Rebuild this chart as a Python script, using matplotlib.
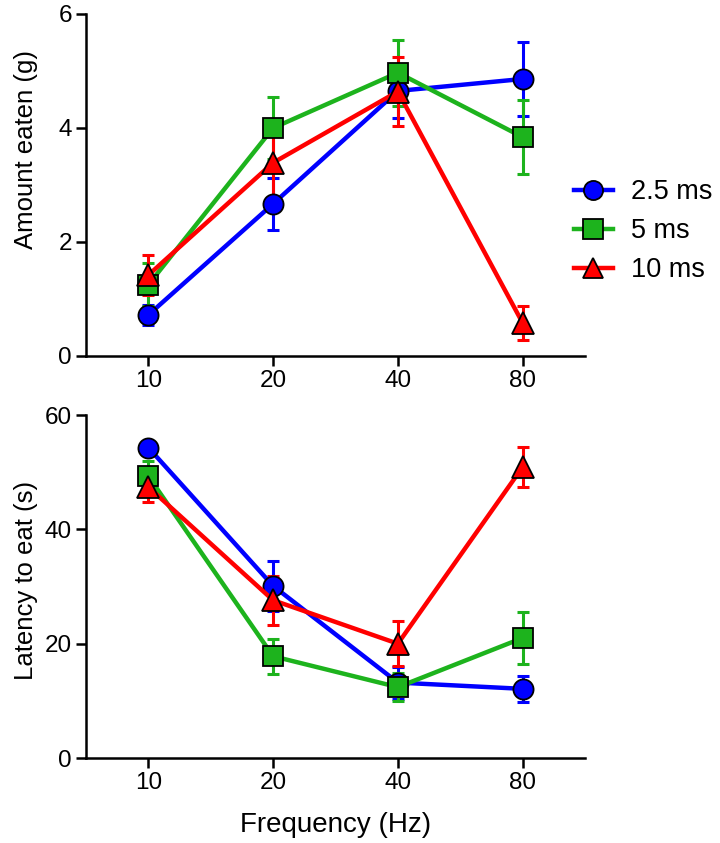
import matplotlib
matplotlib.use("Agg")
import matplotlib.pyplot as plt
import numpy as np

plt.rcParams['font.family'] = ['Liberation Sans', 'DejaVu Sans']

freq_labels = ["10", "20", "40", "80"]
series_names = ["2.5 ms", "5 ms", "10 ms"]

eaten_25 = [0.72, 2.67, 4.65, 4.86]
eaten_25_err = [0.18, 0.46, 0.48, 0.65]
eaten_5 = [1.25, 4.00, 4.97, 3.84]
eaten_5_err = [0.38, 0.55, 0.58, 0.65]
eaten_10 = [1.42, 3.39, 4.64, 0.58]
eaten_10_err = [0.35, 0.67, 0.60, 0.30]

lat_25 = [54.3, 30.1, 13.2, 12.1]
lat_25_err = [1.0, 4.3, 2.8, 2.3]
lat_5 = [49.3, 17.8, 12.4, 21.0]
lat_5_err = [2.7, 3.1, 2.5, 4.5]
lat_10 = [47.4, 27.6, 20.0, 50.9]
lat_10_err = [2.6, 4.3, 3.9, 3.5]

colors = ["#0000FF", "#1DB31D", "#FF0000"]
markers = ["o", "s", "^"]

fig = plt.figure(figsize=(7.2, 8.43), dpi=100)
ax1 = fig.add_axes([0.1194, 0.5777, 0.6931, 0.4057])
ax2 = fig.add_axes([0.1194, 0.1008, 0.6931, 0.4069])

x = np.arange(len(freq_labels))

def draw(ax, data, errs):
    handles = []
    for vals, err, c, m, name in zip(data, errs, colors, markers, series_names):
        ax.errorbar(x, vals, yerr=err, fmt='none', ecolor=c, elinewidth=2.2,
                    capsize=4.5, capthick=2.2, zorder=2)
        ms = 15.5 if m == '^' else 14.5
        h, = ax.plot(x, vals, color=c, lw=3.2, marker=m, markersize=ms,
                     markerfacecolor=c, markeredgecolor='black', markeredgewidth=1.3,
                     label=name, zorder=3)
        handles.append(h)
    return handles

handles = draw(ax1, [eaten_25, eaten_5, eaten_10], [eaten_25_err, eaten_5_err, eaten_10_err])
draw(ax2, [lat_25, lat_5, lat_10], [lat_25_err, lat_5_err, lat_10_err])

for ax in (ax1, ax2):
    ax.set_xlim(-0.5, 3.5)
    ax.set_xticks(x)
    ax.set_xticklabels(freq_labels)
    for s in ("top", "right"):
        ax.spines[s].set_visible(False)
    for s in ("left", "bottom"):
        ax.spines[s].set_linewidth(1.8)
    ax.tick_params(axis='both', direction='out', length=7.2, width=1.8,
                   labelsize=17.5, pad=3)

ax1.set_ylim(0, 6)
ax1.set_yticks([0, 2, 4, 6])
ax2.set_ylim(0, 60)
ax2.set_yticks([0, 20, 40, 60])

ax1.set_ylabel("Amount eaten (g)", fontsize=18.5)
ax2.set_ylabel("Latency to eat (s)", fontsize=18.5)
ax1.yaxis.set_label_coords(-0.097, 0.605)
ax2.yaxis.set_label_coords(-0.097, 0.519)
ax2.set_xlabel("Frequency (Hz)", fontsize=20, labelpad=13)

fig.legend(handles=handles, loc='center left', bbox_to_anchor=(0.797, 0.726),
           frameon=False, fontsize=19.5, handlelength=1.45, labelspacing=0.48,
           handletextpad=0.65, borderpad=0, borderaxespad=0, markerscale=0.95)

fig.savefig("out.png", dpi=100)
